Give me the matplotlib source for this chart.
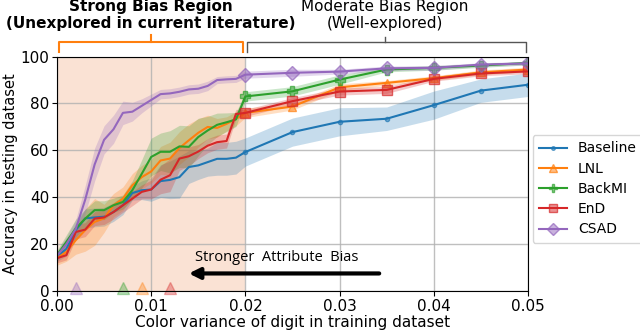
import matplotlib
matplotlib.use("Agg")
import matplotlib.pyplot as plt
from matplotlib.colors import to_rgba
import numpy as np

# x grid: dense in strong-bias region, coarse afterwards
var_x = [0.000, 0.001, 0.002, 0.003, 0.004, 0.005, 0.006, 0.007, 0.008, 0.009,
         0.010, 0.011, 0.012, 0.013, 0.014, 0.015, 0.016, 0.017, 0.018, 0.019,
         0.020, 0.025, 0.030, 0.035, 0.040, 0.045, 0.050]

baseline = [14.6, 18, 26, 31, 31.4, 31.7, 33.7, 36.6, 41.8, 43, 43.3, 46.9, 47.4, 48.6,
            52.9, 53.6, 55, 56.4, 56.4, 56.9, 59.3, 67.8, 72.2, 73.5, 79.3, 85.5, 88]
baseline_std = [2, 3, 3, 4, 4, 4, 4, 4, 3, 4, 5, 7, 8, 9, 7, 6, 6, 7, 7, 7, 6, 6, 6, 5, 6, 5, 5]

lnl = [14, 16.7, 21.7, 26, 29.5, 31, 36.6, 39.4, 45.1, 48.6, 51, 55.7, 56.5, 61, 64.3,
       67.5, 70, 69.6, 71.3, 73.5, 76, 78.7, 86.9, 88.8, 90.8, 93.3, 94.5]
lnl_std = [3, 4, 6, 9, 10, 6, 5, 5, 5, 5, 5, 6, 7, 7, 7, 6, 5, 4, 3, 3, 2, 1.5, 1.5, 1, 1, 1, 1]

backmi = [15.3, 21, 26.7, 30.9, 34.5, 34.5, 36.6, 38, 43, 50, 57.2, 59.4, 59.4, 61.7,
          61.5, 65.7, 68.5, 70.9, 72, 73.2, 83, 85.2, 90.2, 94.5, 95.2, 96.2, 97.3]
backmi_std = [2, 3, 4, 4, 4, 4, 3, 3, 4, 6, 8, 8, 9, 9, 9, 8, 6, 5, 4, 3, 2, 2, 2, 1, 1, 0.8, 0.8]

end = [14, 15.3, 25.2, 26.2, 30.9, 31.4, 33.7, 36.6, 39.4, 42.3, 43.3, 47.5, 49.4, 56.5,
       57.5, 59.5, 62, 63.5, 64, 75.5, 76, 81, 85.1, 85.8, 90.5, 92.8, 93.7]
end_std = [2, 2, 3, 3, 3, 3, 3, 3, 3, 3, 4, 6, 7, 5, 4, 3, 3, 3, 3, 2, 1.5, 1.5, 1.5, 1.5, 1, 1, 1]

csad = [15, 20, 26.5, 39, 54, 64.5, 69, 76, 76.5, 79, 81.5, 84, 84.3, 85, 86, 86.3,
        87.5, 90, 90.3, 90.5, 92.3, 93.1, 93.6, 95, 95.2, 96.6, 97.1]
csad_std = [2, 3, 4, 6, 7, 6, 6, 5, 4, 3, 2.5, 2, 2, 2, 2, 2, 2, 1.5, 1.5, 1.5, 1.5, 1.5, 1, 1, 1, 0.8, 0.8]

# little triangles on the x axis
tri_x = [0.002, 0.007, 0.009, 0.012]
tri_color = ['C4', 'C2', 'C1', 'C3']

series = [
    ('Baseline', baseline, baseline_std, 'C0', '.', 6),
    ('LNL', lnl, lnl_std, 'C1', '^', 6),
    ('BackMI', backmi, backmi_std, 'C2', 'P', 6.5),
    ('EnD', end, end_std, 'C3', 's', 6.5),
    ('CSAD', csad, csad_std, 'C4', 'D', 7.5),
]

fig = plt.figure(figsize=(6.4, 3.33), dpi=100)
ax = fig.add_axes([0.089, 0.126, 0.736, 0.704])

ax.axvspan(0, 0.02, color='#fae2d4', lw=0, zorder=0)

x = np.array(var_x)
marks = list(range(20, len(var_x)))
for name, m, s, c, mk, ms in series:
    m = np.array(m)
    s = np.array(s)
    ax.fill_between(x, m - s, m + s, color=c, alpha=0.25, lw=0)
    ax.plot(x, m, color=c, lw=1.5, marker=mk, markersize=ms, markevery=marks,
            markerfacecolor=to_rgba(c, 0.5), markeredgecolor=to_rgba(c, 0.7), label=name)

for tx, tc in zip(tri_x, tri_color):
    ax.plot(tx, 1.5, marker='^', markersize=8, color=tc, alpha=0.35, clip_on=False, ls='none')

ax.set_xlim(0, 0.05)
ax.set_ylim(0, 100)
ax.set_xticks([0, 0.01, 0.02, 0.03, 0.04, 0.05])
ax.set_xticklabels(['0.00', '0.01', '0.02', '0.03', '0.04', '0.05'])
ax.set_yticks([0, 20, 40, 60, 80, 100])
ax.tick_params(labelsize=11, pad=2)
ax.grid(True, color='#b0b0b0', lw=1, alpha=0.8)
ax.set_axisbelow(True)
ax.set_xlabel('Color variance of digit in training dataset', fontsize=11, labelpad=1)
ax.set_ylabel('Accuracy in testing dataset', fontsize=10.5, labelpad=2)

ax.legend(loc='upper left', bbox_to_anchor=(1.01, 0.665), fontsize=10, markerscale=0.85,
          handlelength=2, labelspacing=0.45, borderaxespad=0, borderpad=0.45)

# arrow and its text
ax.annotate('', xy=(0.0137, 7.5), xytext=(0.0345, 7.5),
            arrowprops=dict(arrowstyle='-|>', lw=3, color='k', mutation_scale=16))
ax.text(0.0233, 14.5, 'Stronger  Attribute  Bias', family='Open Sans', fontsize=10.5,
        ha='center', va='center')

# brackets above the axes
tr = ax.get_xaxis_transform()
ax.plot([0.0002, 0.0002, 0.0198, 0.0198], [1.021, 1.064, 1.064, 1.021], color='C1',
        lw=1.5, transform=tr, clip_on=False)
ax.plot([0.01, 0.01], [1.064, 1.093], color='C1', lw=1.5, transform=tr, clip_on=False)
ax.plot([0.0202, 0.0202, 0.0498, 0.0498], [1.021, 1.064, 1.064, 1.021], color='#555555',
        lw=1, transform=tr, clip_on=False)
ax.plot([0.0348, 0.0348], [1.064, 1.085], color='#555555', lw=1, transform=tr, clip_on=False)

ax.text(0.01, 1.212, 'Strong Bias Region', fontsize=11, fontweight='bold',
        ha='center', va='center', transform=tr)
ax.text(0.01, 1.14, '(Unexplored in current literature)', fontsize=11, fontweight='bold',
        ha='center', va='center', transform=tr)
ax.text(0.0348, 1.212, 'Moderate Bias Region', fontsize=11,
        ha='center', va='center', transform=tr)
ax.text(0.0348, 1.14, '(Well-explored)', fontsize=11,
        ha='center', va='center', transform=tr)

fig.savefig('out.png', dpi=100)
